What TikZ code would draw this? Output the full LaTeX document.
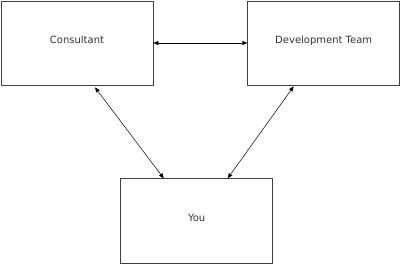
\documentclass[tikz,border=0pt]{standalone}
\usepackage{fontspec}
\setmainfont{DejaVu Sans}
\usetikzlibrary{arrows.meta, positioning, calc}

\begin{document}
\begin{tikzpicture}[
        x=1pt, y=1pt,
        block/.style={
            draw=black!75,
            line width=0.7pt,
            rectangle,
            minimum width=152pt,
            minimum height=84pt,
            inner sep=0pt,
            text depth=7pt,
            align=center,
            text=black!80,
            font=\fontsize{10}{12}\selectfont
        },
        arrow/.style={{Triangle[length=5pt, width=4pt]}-{Triangle[length=5pt, width=4pt]}, line width=0.5pt}
    ]

    % Frame of the page
    \useasboundingbox (0,0) rectangle (400,-264);

    % Top row
    \node[block] at (77,-43) (consultant) {Consultant};
    \node[block, right=94pt of consultant] (devteam) {Development Team};

    % Bottom node
    \node[block, below right=93pt and -33pt of consultant, minimum height=85pt] (you) {You};

    % Arrow: consultant <-> development team
    \draw[arrow] (consultant) -- (devteam);

    % Arrows: top boxes <-> you
    \draw[arrow] ($(consultant.south)+(18,-2)$) -- ($(you.north)+(-33,0)$);
    \draw[arrow] ($(devteam.south)+(-30,-1)$) -- ($(you.north)+(31,0)$);

\end{tikzpicture}
\end{document}
